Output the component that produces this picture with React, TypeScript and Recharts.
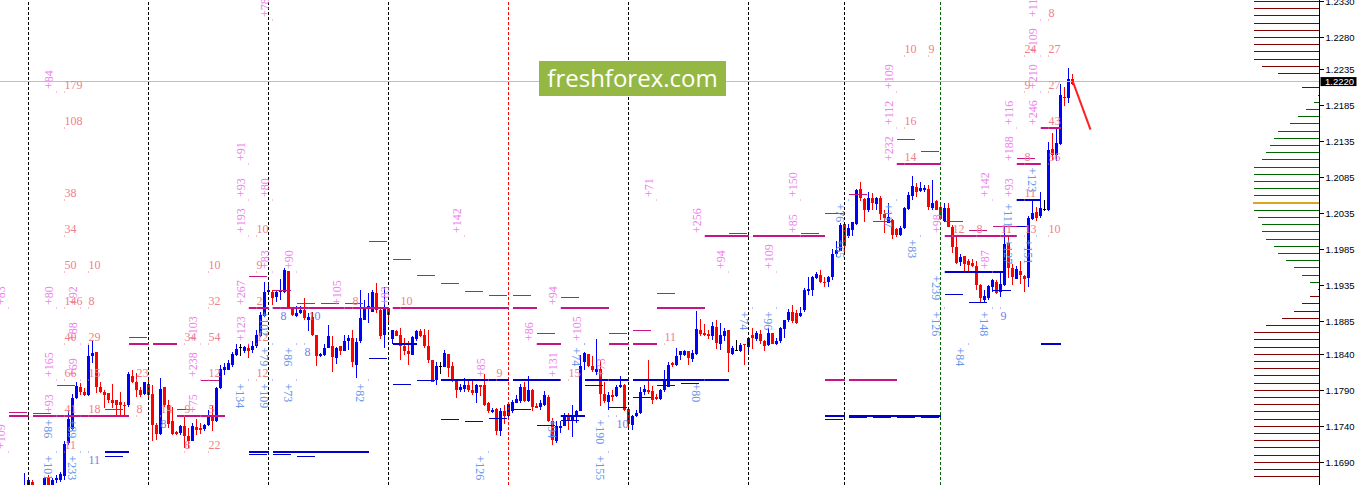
import React from 'react';
import { Bar, ComposedChart, ReferenceLine, Scatter, XAxis, YAxis } from 'recharts';

// all prices below are in pips (1.2220 -> 12220)
const firstBar = 6;
// [open, high, low, close], one row per bar
const candleRows: number[][] = [
  [11650,11675,11645,11656],[11650,11668,11645,11666],[11663,11666,11645,11650],[11640,11645,11635,11642],[11640,11645,11635,11642],
  [11650,11670,11645,11668],[11669,11672,11645,11650],[11650,11668,11645,11666],[11665,11673,11661,11668],[11666,11677,11663,11674],
  [11671,11719,11666,11716],[11717,11762,11714,11750],[11736,11785,11733,11779],[11779,11802,11778,11796],[11795,11800,11784,11787],
  [11787,11793,11782,11784],[11783,11853,11782,11838],[11837,11859,11828,11842],[11843,11843,11786,11795],[11795,11802,11786,11787],
  [11788,11791,11766,11784],[11786,11786,11772,11777],[11777,11799,11765,11772],[11776,11777,11755,11770],[11774,11788,11756,11770],
  [11770,11774,11756,11768],[11769,11815,11767,11812],[11810,11818,11800,11801],[11802,11814,11781,11791],[11791,11795,11781,11784],
  [11785,11802,11784,11801],[11799,11807,11781,11784],[11785,11798,11720,11742],[11742,11744,11721,11730],[11729,11807,11728,11792],
  [11794,11795,11767,11769],[11769,11777,11737,11743],[11748,11767,11728,11730],[11732,11734,11728,11729],[11731,11742,11728,11741],
  [11740,11754,11710,11726],[11726,11737,11710,11719],[11720,11745,11719,11741],[11739,11750,11728,11735],[11737,11744,11730,11735],
  [11736,11743,11734,11742],[11742,11763,11741,11755],[11754,11770,11733,11748],[11747,11795,11746,11793],[11793,11825,11792,11820],
  [11818,11828,11811,11822],[11818,11832,11818,11828],[11825,11843,11823,11840],[11839,11855,11837,11848],[11850,11854,11837,11850],
  [11845,11852,11842,11850],[11849,11855,11835,11845],[11846,11858,11842,11851],[11852,11874,11849,11867],[11866,11899,11864,11895],
  [11893,11941,11892,11927],[11927,11939,11923,11930],[11926,11930,11909,11918],[11919,11930,11912,11927],[11927,11944,11915,11930],
  [11926,11960,11925,11957],[11956,11956,11904,11904],[11904,11906,11893,11895],[11893,11907,11892,11897],[11898,11907,11896,11901],
  [11902,11918,11888,11890],[11888,11898,11873,11892],[11892,11899,11865,11867],[11867,11867,11824,11838],[11837,11842,11836,11841],
  [11839,11855,11838,11849],[11849,11881,11849,11865],[11852,11865,11815,11836],[11835,11850,11827,11849],[11851,11852,11839,11844],
  [11845,11867,11844,11858],[11859,11867,11846,11862],[11863,11874,11823,11830],[11825,11862,11807,11857],[11858,11930,11856,11890],
  [11888,11916,11887,11903],[11903,11925,11884,11907],[11899,11929,11899,11927],[11925,11939,11898,11901],[11901,11904,11861,11866],
  [11867,11933,11849,11905],[11905,11906,11883,11895],[11861,11874,11855,11874],[11873,11874,11865,11866],[11867,11876,11832,11851],
  [11852,11862,11839,11844],[11844,11858,11825,11841],[11839,11865,11839,11864],[11861,11874,11859,11872],[11873,11875,11864,11865],
  [11867,11875,11849,11851],[11852,11874,11828,11832],[11832,11832,11802,11802],[11805,11829,11798,11824],[11824,11829,11813,11824],
  [11823,11846,11822,11842],[11840,11840,11809,11821],[11824,11830,11802,11804],[11805,11805,11779,11790],[11791,11799,11787,11794],
  [11792,11807,11788,11798],[11797,11805,11787,11791],[11791,11804,11784,11786],[11786,11799,11773,11798],[11797,11798,11782,11795],
  [11797,11813,11768,11769],[11772,11774,11759,11761],[11760,11765,11758,11763],[11764,11765,11728,11734],[11733,11765,11727,11761],
  [11761,11770,11743,11754],[11754,11772,11751,11771],[11761,11777,11759,11774],[11772,11784,11772,11778],[11775,11799,11772,11795],
  [11795,11801,11774,11775],[11775,11810,11774,11791],[11791,11792,11761,11767],[11768,11772,11765,11765],[11767,11777,11762,11772],
  [11769,11789,11768,11783],[11781,11784,11746,11747],[11748,11751,11714,11721],[11719,11747,11717,11741],[11738,11748,11731,11741],
  [11740,11759,11740,11756],[11755,11758,11735,11747],[11747,11770,11725,11754],[11754,11763,11745,11761],[11761,11839,11761,11824],
  [11830,11843,11818,11842],[11840,11841,11823,11824],[11824,11837,11816,11818],[11816,11861,11811,11820],[11819,11832,11768,11785],
  [11785,11801,11772,11775],[11774,11788,11762,11784],[11784,11790,11775,11781],[11782,11798,11781,11795],[11794,11810,11793,11798],
  [11798,11799,11761,11762],[11764,11765,11737,11743],[11742,11756,11735,11755],[11754,11763,11753,11759],[11758,11795,11757,11788],
  [11787,11798,11784,11792],[11791,11832,11785,11787],[11789,11796,11771,11777],[11781,11785,11777,11778],[11778,11792,11777,11791],
  [11790,11818,11788,11804],[11795,11830,11794,11825],[11828,11830,11823,11825],[11825,11849,11824,11838],[11839,11845,11832,11844],
  [11839,11846,11837,11844],[11844,11845,11825,11835],[11834,11846,11830,11842],[11841,11900,11839,11875],[11874,11889,11866,11868],
  [11869,11882,11866,11867],[11868,11874,11861,11866],[11865,11885,11860,11879],[11878,11888,11848,11856],[11854,11883,11846,11867],
  [11866,11876,11858,11872],[11874,11874,11815,11842],[11841,11851,11839,11849],[11846,11860,11844,11846],[11845,11856,11843,11853],
  [11854,11855,11825,11853],[11850,11862,11841,11862],[11867,11877,11848,11863],[11861,11873,11858,11869],[11868,11874,11855,11858],
  [11859,11860,11844,11852],[11853,11876,11852,11870],[11869,11870,11854,11855],[11854,11862,11853,11859],[11858,11878,11856,11876],
  [11875,11888,11862,11887],[11887,11903,11885,11899],[11899,11909,11883,11886],[11898,11902,11882,11884],[11893,11906,11892,11898],
  [11902,11932,11899,11930],[11928,11947,11922,11931],[11929,11949,11921,11947],[11946,11954,11944,11952],[11950,11957,11939,11941],
  [11941,11948,11934,11940],[11941,11949,11934,11948],[11947,11986,11943,11979],[11979,11998,11975,11985],[11984,12022,11983,12020],
  [12021,12023,11978,11990],[12004,12021,12001,12015],[12012,12024,12004,12024],[12021,12069,12020,12068],[12070,12079,12053,12057],
  [12056,12057,12024,12041],[12041,12065,12038,12057],[12057,12064,12041,12050],[12049,12058,12041,12057],[12057,12060,12027,12035],
  [12035,12041,12009,12030],[12023,12050,12022,12031],[12027,12028,12000,12006],[12014,12015,12003,12006],[12006,12018,12004,12016],
  [12015,12045,12014,12043],[12042,12066,12041,12061],[12060,12088,12054,12074],[12073,12078,12058,12066],[12067,12079,12066,12071],
  [12068,12075,12066,12071],[12070,12075,12040,12044],[12043,12082,12041,12050],[12053,12054,12041,12041],[12044,12052,12027,12028],
  [12025,12050,12024,12043],[12043,12050,12017,12017],[12017,12020,11981,11989],[11989,12006,11966,11967],[11968,11980,11962,11975],
  [11976,11977,11953,11965],[11969,11973,11955,11964],[11967,11973,11961,11963],[11963,11969,11929,11936],[11936,11938,11912,11918],
  [11916,11930,11913,11921],[11918,11936,11916,11935],[11934,11944,11927,11943],[11941,11943,11924,11925],[11927,11953,11919,11938],
  [11936,12018,11935,11993],[11995,12004,11946,11960],[11960,11966,11936,11947],[11945,11962,11944,11958],[11956,11969,11938,11950],
  [11949,11950,11927,11945],[11946,12032,11934,12030],[12028,12056,12027,12036],[12037,12045,12025,12030],[12032,12066,12029,12043],
  [12042,12055,12039,12042],[12040,12135,12039,12124],[12125,12147,12110,12117],[12117,12155,12109,12133],[12132,12216,12131,12200],
  [12197,12211,12185,12196],[12196,12238,12189,12222],[12222,12229,12214,12216],
];

const priceTicks = [1.233, 1.228, 1.2235, 1.2185, 1.2135, 1.2085, 1.2035, 1.1985, 1.1935, 1.1885, 1.184, 1.179, 1.174, 1.169];
const lastPrice = 1.22195;
const sessionBars = [7, 37, 67, 97, 157, 187, 211];
const dayBar = 127;
const weekBar = 235;
const forecastLine = [[268, 12220], [272.5, 12152]];

// [from bar, to bar, price]
const sellLevels = [
  [2,7,11755],[8,32,11755],[44,56,11755],[32,37,11855],[38,44,11855],[62,67,11905],[68,97,11905],[98,127,11905],[128,134,11905],
  [140,152,11905],[164,176,11905],[134,140,11855],[152,157,11855],[158,164,11855],[176,187,12005],[188,206,12005],[236,254,12005],
  [224,235,12105],[254,260,12105],[206,211,11805],[212,224,11805],[260,265,12155],
];
const sellTargets = [
  [2,6.5,11759],[8,12.5,11758],[32,36.5,11864],[14,18.5,11796],[26,30.5,11764],[44,48.5,11764],[50,54.5,11803],[62,66.5,11948],
  [68,72.5,11929],[74,78.5,11911],[80,84.5,11911],[86,90.5,11911],[92,96.5,11997],[98,102.5,11971],[104,108.5,11950],[110,114.5,11939],
  [116,120.5,11927],[122,126.5,11921],[128,132.5,11921],[140,144.5,11919],[134,138.5,11869],[152,156.5,11869],[158,162.5,11873],
  [164,168.5,11925],[182,186.5,12008],[200,204.5,12008],[206,210.5,12036],[212,216.5,12062],[218,222.5,12025],[236,240.5,12024],
  [224,228.5,12139],[230,234.5,12122],[242,246.5,12012],[248,254,12018],[254,258.5,12112],
];
const buyLevels = [
  [26,32,11705],[62,67,11705],[68,92,11705],[98,104,11855],[110,127,11805],[128,140,11805],[146,157,11805],[158,182,11805],
  [140,146,11755],[206,211,11755],[212,235,11755],[236,251,11955],[254,260,12055],[260,265,11855],
];
const buyTargets = [
  [62,66.5,11701],[68,72.5,11701],[74,78.5,11698],[26,30.5,11698],[92,96.5,11834],[98,102.5,11798],[104,108.5,11804],[110,114.5,11750],
  [116,120.5,11747],[122,126.5,11751],[128,132.5,11764],[134,138.5,11741],[140,144.5,11748],[146,150.5,11797],[152,156.5,11766],
  [158,162.5,11780],[164,168.5,11796],[170,174.5,11800],[206,210.5,11749],[212,216.5,11752],[218,222.5,11752],[224,228.5,11752],[230,234.5,11752],
  [236,240.5,11923],[242,246.5,11912],[248,252.5,11928],[254,257,12018],
];

// [bar, price, text]
const upLabels: [number, number, string][] = [
  [14,12205,'+84'],[62,12105,'+91'],[62,12055,'+93'],[62,12005,'+193'],[68,12055,'+80'],[68,12305,'+78'],[2,11905,'+83'],[14,11905,'+80'],
  [14,11805,'+165'],[14,11755,'+93'],[2,11705,'+109'],[20,11905,'+92'],[20,11855,'+88'],[20,11805,'+69'],[50,11855,'+103'],[50,11805,'+238'],
  [50,11755,'+75'],[62,11905,'+267'],[62,11855,'+123'],[68,11955,'+83'],[74,11955,'+90'],[86,11905,'+105'],[98,11905,'+83'],[122,11805,'+85'],
  [134,11855,'+86'],[140,11905,'+94'],[140,11805,'+131'],[146,11855,'+105'],[152,11805,'+73'],[116,12005,'+142'],[164,12055,'+71'],
  [176,12005,'+256'],[182,11955,'+94'],[194,11955,'+109'],[200,12005,'+85'],[200,12055,'+150'],[236,12005,'+98'],[248,12055,'+142'],
  [254,12055,'+93'],[248,11955,'+87'],[224,12205,'+109'],[224,12155,'+112'],[224,12105,'+232'],[260,12305,'+112'],[260,12255,'+109'],
  [260,12205,'+210'],[260,12155,'+246'],[254,12155,'+116'],[254,12105,'+188'],
];
const downLabels: [number, number, string][] = [
  [14,11755,'+86'],[14,11705,'+101'],[20,11755,'+89'],[20,11705,'+233'],[62,11805,'+134'],[68,11855,'+79'],[68,11805,'+109'],[68,11905,'+102'],
  [74,11855,'+86'],[74,11805,'+73'],[92,11805,'+82'],[122,11705,'+126'],[152,11755,'+190'],[152,11705,'+155'],[146,11855,'+74'],[140,11755,'+94'],
  [176,11805,'+80'],[188,11905,'+74'],[194,11905,'+96'],[212,12055,'+76'],[212,12005,'+65'],[224,12055,'+117'],[230,12005,'+83'],[236,11955,'+239'],
  [236,11905,'+126'],[242,11855,'+84'],[248,11905,'+148'],[254,12055,'+111'],[254,12005,'+127'],[260,12105,'+123'],[259,12005,'+151'],
];
const askCounts: [number, number, string][] = [
  [16,12205,'179'],[16,12155,'108'],[16,12055,'38'],[16,12005,'34'],[64,12005,'10'],[16,11955,'50'],[22,11955,'10'],[16,11905,'146'],[22,11905,'8'],
  [16,11855,'40'],[22,11855,'29'],[16,11805,'66'],[22,11805,'15'],[16,11755,'41'],[22,11755,'18'],[34,11755,'8'],[34,11805,'23'],[40,11755,'14'],
  [16,11705,'11'],[52,11955,'10'],[52,11905,'32'],[52,11855,'54'],[52,11805,'12'],[52,11755,'5'],[52,11705,'22'],[46,11855,'34'],[46,11755,'9'],
  [46,11705,'8'],[64,11955,'9'],[64,11905,'2'],[64,11855,'12'],[64,11805,'12'],[88,11905,'8'],[100,11905,'10'],[124,11805,'9'],[142,11805,'15'],
  [166,11855,'11'],[226,12255,'10'],[232,12255,'9'],[226,12155,'16'],[226,12105,'14'],[238,12005,'12'],[244,12005,'8'],[250,12005,'11'],
  [262,12305,'8'],[262,12255,'27'],[262,12205,'27'],[256,12255,'24'],[256,12205,'9'],[262,12155,'43'],[256,12105,'8'],[262,12105,'56'],
  [256,12055,'11'],[256,12005,'13'],[262,12005,'10'],
];
const bidCounts: [number, number, string][] = [
  [22,11705,'11'],[70,11905,'8'],[76,11855,'8'],[77,11905,'10'],[154,11755,'10'],[250,11905,'9'],[40,11755,'8'],
];

// market profile, volume per price row
const profileLevels = [
  12330,12320,12310,12300,12290,12280,12270,12260,12250,12240,12230,12220,12210,12200,12190,12180,12170,12160,12150,12140,12130,12120,12110,
  12100,12090,12080,12070,12060,12050,12040,12030,12020,12010,12000,11990,11980,11970,11960,11950,11940,11930,11920,11910,11900,11890,11880,
  11870,11860,11850,11840,11830,11820,11810,11800,11790,11780,11770,11760,11750,11740,11730,11720,11710,11700,11690,11680,11670,
];
const profileVolumes = [
  66,66,66,66,66,66,66,66,66,58,42,0,18,2,6,14,22,30,42,46,50,54,58,
  66,66,66,66,66,67,66,62,58,58,54,46,42,34,26,18,10,2,10,18,26,38,54,
  66,66,66,66,66,66,66,66,66,66,66,66,66,66,66,66,66,66,66,66,66,
];

const candles = candleRows.map((row, i) => ({
  bar: firstBar + i,
  range: [row[2] / 10000, row[1] / 10000],
  open: row[0] / 10000,
  high: row[1] / 10000,
  low: row[2] / 10000,
  close: row[3] / 10000,
}));

const toPoints = (rows: [number, number, string][]) =>
  rows.map(([bar, pips, text]) => ({ bar, price: pips / 10000, text }));

const rightBar = 329.75;
const serif = '"Liberation Serif", serif';

const Candle = (props: any) => {
  const { x, y, width, height, payload } = props;
  const { open, close, high, low } = payload;
  const perPrice = height / (high - low);
  const cx = x + width / 2;
  const top = y + (high - Math.max(open, close)) * perPrice;
  const bodyH = Math.max(Math.abs(open - close) * perPrice, 1);
  const color = open === close ? '#000000' : close > open ? '#0000ff' : '#ff0000';
  return (
    <g shapeRendering="crispEdges">
      <rect x={cx - 0.5} y={y} width={1} height={height} fill={color} />
      <rect x={cx - 1.5} y={top} width={3} height={bodyH} fill={color} />
    </g>
  );
};

const UpLabel = ({ cx, cy, payload }: any) => (
  <g>
    <rect x={cx - 0.5} y={cy} width={1} height={1} fill="#ee82ee" />
    <text transform={`translate(${cx - 3.5},${cy - 2.5}) rotate(-90)`} fontFamily={serif} fontSize={12} fill="#ee82ee">{payload.text}</text>
  </g>
);
const DownLabel = ({ cx, cy, payload }: any) => (
  <g>
    <rect x={cx - 0.5} y={cy} width={1} height={1} fill="#6495ed" />
    <text transform={`translate(${cx - 12.5},${cy + 4}) rotate(90)`} fontFamily={serif} fontSize={12} fill="#6495ed">{payload.text}</text>
  </g>
);
const AskCount = ({ cx, cy, payload }: any) => (
  <g>
    <rect x={cx - 0.5} y={cy} width={1} height={1} fill="#f08080" />
    <text x={cx} y={cy - 3} fontFamily={serif} fontSize={12} fill="#ee7f8b">{payload.text}</text>
  </g>
);
const BidCount = ({ cx, cy, payload }: any) => (
  <g>
    <rect x={cx - 0.5} y={cy} width={1} height={1} fill="#7b7bee" />
    <text x={cx} y={cy + 12} fontFamily={serif} fontSize={12} fill="#7b7bee">{payload.text}</text>
  </g>
);

const PriceTag = ({ viewBox }: any) => (
  <g>
    <rect x={viewBox.x + viewBox.width + 1} y={viewBox.y - 4} width={36} height={9} fill="#000" />
    <text x={viewBox.x + viewBox.width + 5.5} y={viewBox.y + 4} fontFamily='"Liberation Sans", sans-serif' fontSize={9.5} fill="#fff">1.2220</text>
  </g>
);

const levelLines = (rows: number[][], color: string, width: number, key: string) =>
  rows.map(([from, to, pips], i) => (
    <ReferenceLine
      key={`${key}-${i}`}
      segment={[{ x: from, y: pips / 10000 }, { x: to, y: pips / 10000 }]}
      stroke={color}
      strokeWidth={width}
    />
  ));

const profileColor = (pips: number, vol: number) => {
  if (vol === Math.max(...profileVolumes)) return '#daa520';
  return pips > 12195 || pips < 11925 ? '#800000' : '#006400';
};

export default function App() {
  return (
    <div style={{ position: 'absolute', left: 0, top: 0, width: 1361, height: 485, background: '#fff', overflow: 'hidden' }}>
      <style>{'svg line{shape-rendering:crispEdges}'}</style>
      <ComposedChart width={1361} height={485} data={candles} margin={{ top: 0, right: 0, bottom: 0, left: 0 }}>
        <XAxis dataKey="bar" type="number" domain={[-0.125, rightBar]} allowDataOverflow hide />
        <YAxis
          orientation="right"
          type="number"
          width={41.5}
          domain={[1.16585, 1.23321]}
          allowDataOverflow
          ticks={priceTicks}
          interval={0}
          tickFormatter={(v: number) => v.toFixed(4)}
          axisLine={{ stroke: '#000' }}
          tickLine={{ stroke: '#000' }}
          tickSize={4}
          tickMargin={2}
          tick={{ fontFamily: '"Liberation Sans", sans-serif', fontSize: 9.5, fill: '#000' }}
        />

        <ReferenceLine y={lastPrice} stroke="#c0c0c0" label={<PriceTag />} />
        {sessionBars.map((b) => (
          <ReferenceLine key={b} x={b} stroke="#000" strokeDasharray="3 2" />
        ))}
        <ReferenceLine x={dayBar} stroke="#ff0000" strokeDasharray="3 2" />
        <ReferenceLine x={weekBar} stroke="#006400" strokeDasharray="3 2" />

        {profileLevels.map((pips, i) =>
          profileVolumes[i] > 0 ? (
            <ReferenceLine
              key={pips}
              segment={[{ x: rightBar, y: pips / 10000 }, { x: rightBar - profileVolumes[i] / 4, y: pips / 10000 }]}
              stroke={profileColor(pips, profileVolumes[i])}
              strokeWidth={profileVolumes[i] === 67 ? 2 : 1}
            />
          ) : null
        )}

        {levelLines(sellLevels, '#c71585', 2, 'sell')}
        {levelLines(sellTargets, '#c71585', 1, 'sellT')}
        {levelLines(buyLevels, '#0000cd', 2, 'buy')}
        {levelLines(buyTargets, '#0000cd', 1, 'buyT')}

        <Scatter data={toPoints(upLabels)} dataKey="price" shape={<UpLabel />} isAnimationActive={false} />
        <Scatter data={toPoints(downLabels)} dataKey="price" shape={<DownLabel />} isAnimationActive={false} />
        <Scatter data={toPoints(askCounts)} dataKey="price" shape={<AskCount />} isAnimationActive={false} />
        <Scatter data={toPoints(bidCounts)} dataKey="price" shape={<BidCount />} isAnimationActive={false} />

        <Bar dataKey="range" barSize={3} shape={<Candle />} isAnimationActive={false} />

        <ReferenceLine
          segment={[
            { x: forecastLine[0][0], y: forecastLine[0][1] / 10000 },
            { x: forecastLine[1][0], y: forecastLine[1][1] / 10000 },
          ]}
          stroke="#ff2020"
          strokeWidth={2}
          style={{ shapeRendering: 'auto' }}
        />
      </ComposedChart>
      <div
        style={{
          position: 'absolute', left: 539, top: 61, width: 187, height: 35, background: '#95b844', color: '#fff',
          fontFamily: '"Open Sans", sans-serif', fontSize: 24, lineHeight: '33px', textAlign: 'center',
        }}
      >
        freshforex.com
      </div>
    </div>
  );
}
